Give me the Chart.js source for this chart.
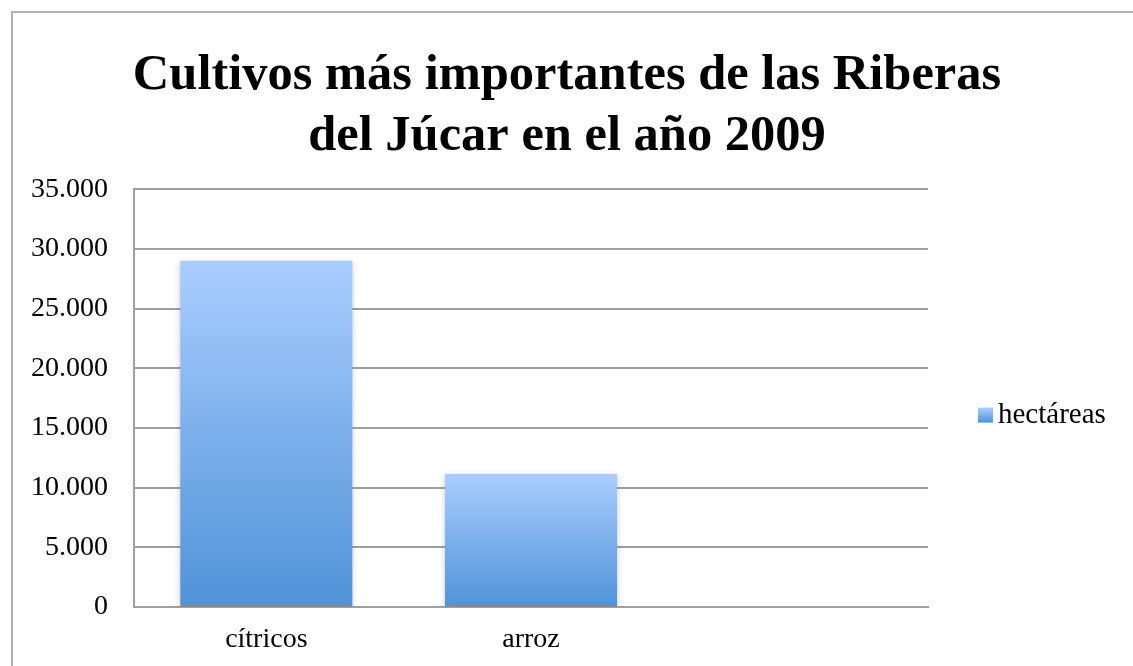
<!DOCTYPE html>
<html>
<head>
<meta charset="utf-8">
<script src="https://cdn.jsdelivr.net/npm/chart.js@4.4.1/dist/chart.umd.min.js"></script>
<style>
  html, body { margin: 0; padding: 0; background: #fff; overflow: hidden; }
  #frame {
    position: absolute; left: 11px; top: 11px;
    width: 1300px; height: 800px;
    border: 2px solid #b3b3b3;
  }
  #wrap { position: absolute; left: 0; top: 0; width: 1133px; height: 666px; }
</style>
</head>
<body>
<div id="frame"></div>
<div id="wrap"><canvas id="cropsChart" width="1133" height="666"></canvas></div>
<script>
const categories = ["cítricos", "arroz", ""];
const hectareas = [29000, 11150, null];
const seriesName = "hectáreas";
const titleLines = ["Cultivos más importantes de las Riberas", "del Júcar en el año 2009"];

const ctx = document.getElementById("cropsChart");
const serif = "Liberation Serif";

function fmtMiles(v) {
  return String(v).replace(/\B(?=(\d{3})+(?!\d))/g, ".");
}

function blueGradient(c, top, bottom) {
  const g = c.createLinearGradient(0, top, 0, bottom);
  g.addColorStop(0, "#aacdff");
  g.addColorStop(1, "#4f93d8");
  return g;
}

function barGradient(context) {
  const chart = context.chart;
  if (!chart.chartArea || context.raw == null) return "#6fa8e8";
  const y = chart.scales.y;
  return blueGradient(chart.ctx, y.getPixelForValue(context.raw), y.getPixelForValue(0));
}

const shadowPlugin = {
  id: "barShadow",
  beforeDatasetsDraw(chart) {
    const c = chart.ctx;
    c.save();
    c.shadowColor = "rgba(0,0,0,0.22)";
    c.shadowBlur = 6;
    c.shadowOffsetY = 2;
  },
  afterDatasetsDraw(chart) {
    chart.ctx.restore();
  },
};

// legend drawn beside the plot, vertically centred on it
const sideLegend = {
  id: "sideLegend",
  afterDraw(chart) {
    const c = chart.ctx;
    const a = chart.chartArea;
    const cy = (a.top + a.bottom) / 2 + 17;
    const x = a.right + 50;
    c.save();
    c.fillStyle = blueGradient(c, cy - 7.5, cy + 7.5);
    c.fillRect(x, cy - 7.5, 15, 15);
    c.fillStyle = "#000";
    c.font = "29px '" + serif + "'";
    c.textBaseline = "middle";
    c.fillText(seriesName, x + 20, cy);
    c.restore();
  },
};

new Chart(ctx, {
  type: "bar",
  data: {
    labels: categories,
    datasets: [
      {
        label: seriesName,
        data: hectareas,
        backgroundColor: barGradient,
        borderWidth: 0,
        categoryPercentage: 1,
        barPercentage: 0.65,
      },
    ],
  },
  plugins: [shadowPlugin, sideLegend],
  options: {
    responsive: false,
    animation: false,
    devicePixelRatio: 1,
    layout: { padding: { left: 5, right: 4, top: 0, bottom: 1 } },
    plugins: {
      title: {
        display: true,
        text: titleLines,
        color: "#000",
        font: { family: serif, weight: "bold", size: 50.5 },
        lineHeight: 1.18,
        padding: { top: 46, bottom: 22 },
      },
      legend: { display: false },
      tooltip: { enabled: false },
    },
    scales: {
      x: {
        grid: { display: false },
        border: { display: true, color: "#a0a0a0", width: 2 },
        ticks: { color: "#000", font: { family: serif, size: 28, lineHeight: 1.0 }, padding: 11 },
      },
      y: {
        min: 0,
        max: 35000,
        ticks: {
          stepSize: 5000,
          color: "#000",
          font: { family: serif, size: 28 },
          padding: 26,
          callback: (v) => fmtMiles(v),
        },
        grid: { color: "#a0a0a0", lineWidth: 2, drawTicks: false },
        border: { display: true, color: "#a0a0a0", width: 2 },
      },
      // empty strip on the right that keeps room for the legend
      legendRoom: {
        type: "linear",
        position: "right",
        min: 0,
        max: 35000,
        ticks: { display: false },
        grid: { display: false, drawTicks: false },
        border: { display: false },
        afterFit(scale) {
          scale.width = 201;
        },
      },
    },
  },
});
</script>
</body>
</html>
